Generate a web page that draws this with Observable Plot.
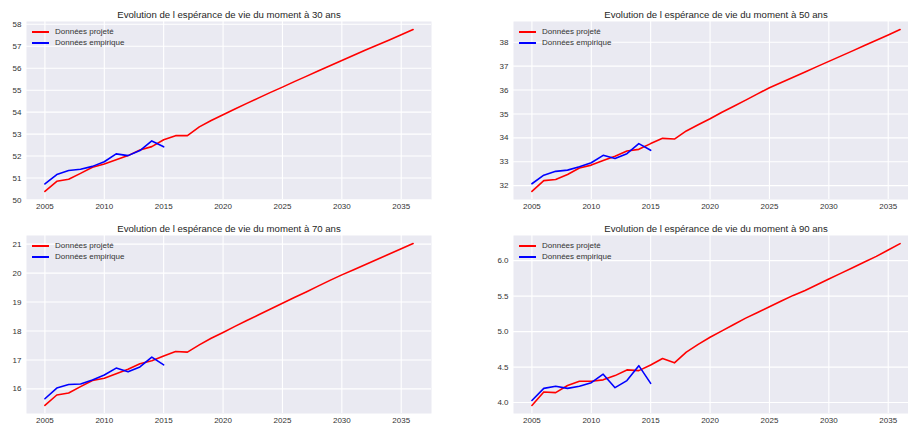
<!DOCTYPE html>
<html><head><meta charset="utf-8">
<script src="https://cdn.jsdelivr.net/npm/d3@7"></script>
<script src="https://cdn.jsdelivr.net/npm/@observablehq/plot@0.6"></script>
<style>
body{margin:0;background:#fff;font-family:"Liberation Sans",Arial,sans-serif;}
#fig{position:relative;width:908px;height:428px;overflow:hidden;background:#fff;}
.panel{position:absolute;width:454px;height:214px;overflow:hidden;}
.panel svg{max-width:none !important;display:block;}
.legend{position:absolute;font-size:8px;color:#333;font-family:"Liberation Sans",Arial,sans-serif;}
.row{display:flex;align-items:center;height:11px;white-space:nowrap;}
.sw{display:inline-block;width:17px;height:2px;margin-right:6px;}
</style>
</head><body>
<div id="fig"></div>
<script>
// ---- Data ----
const yearsProj = [2005,2006,2007,2008,2009,2010,2011,2012,2013,2014,2015,2016,2017,2018,2019,2020,2021,2022,2023,2024,2025,2026,2027,2028,2029,2030,2031,2032,2033,2034,2035,2036];
const yearsEmp = [2005,2006,2007,2008,2009,2010,2011,2012,2013,2014,2015];

const proj30 = [50.39,50.85,50.94,51.21,51.49,51.64,51.83,52.02,52.28,52.43,52.74,52.93,52.93,53.33,53.62,53.88,54.14,54.40,54.65,54.90,55.14,55.39,55.63,55.87,56.11,56.35,56.59,56.83,57.06,57.29,57.52,57.76];
const emp30 = [50.73,51.16,51.34,51.40,51.53,51.74,52.10,52.02,52.25,52.69,52.42];

const proj50 = [31.76,32.21,32.26,32.47,32.74,32.86,33.05,33.23,33.45,33.52,33.76,33.98,33.95,34.29,34.55,34.80,35.07,35.32,35.58,35.84,36.10,36.32,36.54,36.76,36.98,37.20,37.42,37.64,37.86,38.08,38.30,38.53];
const emp50 = [32.08,32.44,32.60,32.65,32.79,32.96,33.27,33.14,33.34,33.76,33.48];

const proj70 = [15.43,15.79,15.86,16.08,16.29,16.37,16.52,16.68,16.87,16.97,17.14,17.29,17.27,17.52,17.75,17.95,18.16,18.36,18.56,18.76,18.96,19.16,19.35,19.55,19.75,19.94,20.12,20.30,20.48,20.66,20.84,21.02];
const emp70 = [15.66,16.03,16.15,16.17,16.31,16.48,16.72,16.59,16.76,17.10,16.83];

const proj90 = [3.96,4.15,4.14,4.24,4.30,4.30,4.32,4.38,4.46,4.45,4.53,4.62,4.56,4.71,4.82,4.92,5.01,5.10,5.19,5.27,5.35,5.43,5.51,5.58,5.66,5.74,5.82,5.90,5.98,6.06,6.15,6.24];
const emp90 = [4.03,4.20,4.23,4.20,4.23,4.28,4.40,4.21,4.31,4.52,4.27];

const xTicks = [2005,2010,2015,2020,2025,2030,2035];
const yTicks30 = [50,51,52,53,54,55,56,57,58];
const yTicks50 = [32,33,34,35,36,37,38];
const yTicks70 = [16,17,18,19,20,21];
const yTicks90 = [4.0,4.5,5.0,5.5,6.0];

const titles = [
  "Evolution de l espérance de vie du moment à 30 ans",
  "Evolution de l espérance de vie du moment à 50 ans",
  "Evolution de l espérance de vie du moment à 70 ans",
  "Evolution de l espérance de vie du moment à 90 ans"
];
const seriesNames = ["Données projeté", "Données empirique"];
const seriesColors = ["#ff0000", "#0000ff"];

// ---- Drawing ----
function pad(ext){ const r = ext[1]-ext[0]; return [ext[0]-0.05*r, ext[1]+0.05*r]; }

const fig = document.getElementById("fig");

function panel({left, top, marginLeft, width, proj, emp, yTicks, yFormat, title}) {
  const projData = yearsProj.map((year,i)=>({year, value: proj[i]}));
  const empData = yearsEmp.map((year,i)=>({year, value: emp[i]}));
  const xDom = pad(d3.extent(yearsProj));
  const yDom = pad(d3.extent([...proj, ...emp]));
  const svg = Plot.plot({
    width, height: 214,
    marginLeft, marginRight: width - marginLeft - 405, marginTop: 21, marginBottom: 15,
    style: {fontSize: "8px", fontFamily: "'Liberation Sans', Arial, sans-serif", color: "#333", background: "transparent", maxWidth: "none"},
    x: {domain: xDom, ticks: xTicks, tickFormat: "d", tickSize: 0, tickPadding: 4, label: null},
    y: {domain: yDom, ticks: yTicks, tickFormat: yFormat, tickSize: 0, tickPadding: 5, label: null},
    marks: [
      Plot.frame({fill: "#EAEAF2", stroke: "none"}),
      Plot.ruleX(xTicks, {stroke: "white", strokeWidth: 1.1}),
      Plot.ruleY(yTicks, {stroke: "white", strokeWidth: 1.1}),
      Plot.line(projData, {x: "year", y: "value", stroke: seriesColors[0], strokeWidth: 1.6}),
      Plot.line(empData, {x: "year", y: "value", stroke: seriesColors[1], strokeWidth: 1.6}),
      Plot.text([title], {text: d => d, frameAnchor: "top", lineAnchor: "middle", dy: -7, fontSize: 9.6, fill: "#262626"})
    ]
  });
  const div = document.createElement("div");
  div.className = "panel";
  div.style.left = left + "px";
  div.style.top = top + "px";
  div.appendChild(svg);
  const leg = document.createElement("div");
  leg.className = "legend";
  leg.style.left = (marginLeft + 6) + "px";
  leg.style.top = "26px";
  seriesNames.forEach((name, i) => {
    const row = document.createElement("div");
    row.className = "row";
    const sw = document.createElement("span");
    sw.className = "sw";
    sw.style.backgroundColor = seriesColors[i];
    const t = document.createElement("span");
    t.textContent = name;
    row.appendChild(sw); row.appendChild(t);
    leg.appendChild(row);
  });
  div.appendChild(leg);
  fig.appendChild(div);
}

panel({left: 0, top: 0, marginLeft: 26, width: 454, proj: proj30, emp: emp30, yTicks: yTicks30, yFormat: "d", title: titles[0]});
panel({left: 454, top: 0, marginLeft: 59, width: 475, proj: proj50, emp: emp50, yTicks: yTicks50, yFormat: "d", title: titles[1]});
panel({left: 0, top: 214, marginLeft: 26, width: 454, proj: proj70, emp: emp70, yTicks: yTicks70, yFormat: "d", title: titles[2]});
panel({left: 454, top: 214, marginLeft: 59, width: 475, proj: proj90, emp: emp90, yTicks: yTicks90, yFormat: ".1f", title: titles[3]});
</script>
</body></html>
